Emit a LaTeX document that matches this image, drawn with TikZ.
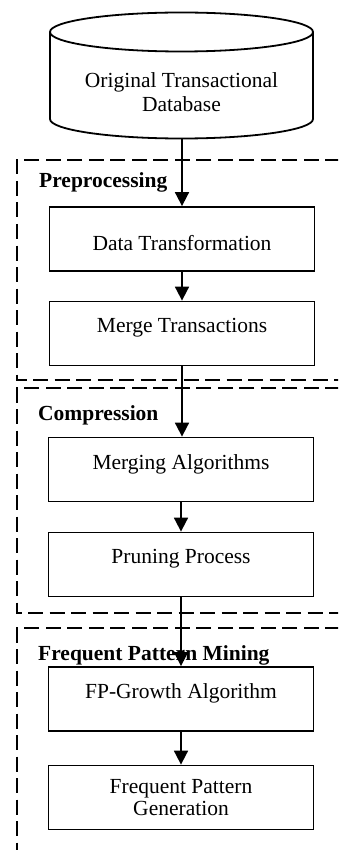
\documentclass[tikz,border=0pt]{standalone}
\usepackage{fontspec}
\setmainfont{Liberation Serif}
\usetikzlibrary{arrows.meta}
\begin{document}
\begin{tikzpicture}[x=1pt,y=1pt,
  procbox/.style={draw, line width=1.8pt, minimum width=265pt, minimum height=64pt, inner sep=0pt, align=center, font=\fontsize{21.5}{22}\selectfont},
  grouplabel/.style={anchor=base west, inner sep=0pt, font=\fontsize{21.5}{24}\selectfont\bfseries},
  grp/.style={line width=1.7pt, dash pattern=on 15pt off 6.5pt},
  arr/.style={line width=1.8pt, -{Triangle[length=14pt,width=14pt]}}]
\fill[white] (0,0) rectangle (338,-850);
\useasboundingbox (0,0) rectangle (338,-850);
\begin{scope}
\clip (0,0) rectangle (338,-850);
% group frames
\draw[grp] (340,-160) -- (17,-160) -- (17,-380) -- (340,-380);
\draw[grp] (340,-388) -- (17,-388) -- (17,-613) -- (340,-613);
\draw[grp] (340,-628) -- (17,-628) -- (17,-852);
\end{scope}
% cylinder
\draw[line width=1.8pt, fill=white] (50,-32) -- (50,-119) arc[start angle=180, end angle=360, x radius=131.5, y radius=19.5] -- (313,-32);
\draw[line width=1.8pt] (181.5,-32) ellipse[x radius=131.5, y radius=19.5];
\node[align=center, inner sep=0pt, font=\fontsize{21.5}{24}\selectfont] (db) at (181.5,-92) {Original Transactional\\Database};
\coordinate (dbbot) at (182,-138.5);
% labels
\node[grouplabel] (lpre) at (39,-188) {Preprocessing};
\node[grouplabel] (lcomp) at (38,-420) {Compression};
\node[grouplabel] (lfpm) at (38,-660) {Frequent Pattern Mining};
% boxes
\node[procbox, fill=white, text height=24pt, text depth=1.8pt] (dt) at (182,-239) {Data Transformation};
\node[procbox, fill=white, text height=24pt, text depth=26.8pt] (mt) at (182,-333.5) {Merge Transactions};
\node[procbox, fill=white, text height=24pt, text depth=24.8pt] (ma) at (181,-469.5) {Merging Algorithms};
\node[procbox, fill=white, text height=24pt, text depth=26.8pt] (pp) at (181,-564.5) {Pruning Process};
\node[procbox, fill=white, text height=24pt, text depth=24.8pt] (fp) at (181,-699) {FP-Growth Algorithm};
\node[procbox, fill=white] (fg) at (181,-797.5) {Frequent Pattern\\Generation};
% arrows
\draw[arr] (dbbot) -- (dbbot |- dt.north);
\draw[arr] (dt.south) -- (dt.south |- mt.north);
\draw[arr] (mt.south) -- (mt.south |- ma.north);
\draw[arr] (ma.south) -- (ma.south |- pp.north);
\draw[arr] (pp.south) -- (pp.south |- fp.north);
\draw[arr] (fp.south) -- (fp.south |- fg.north);
\end{tikzpicture}
\end{document}
